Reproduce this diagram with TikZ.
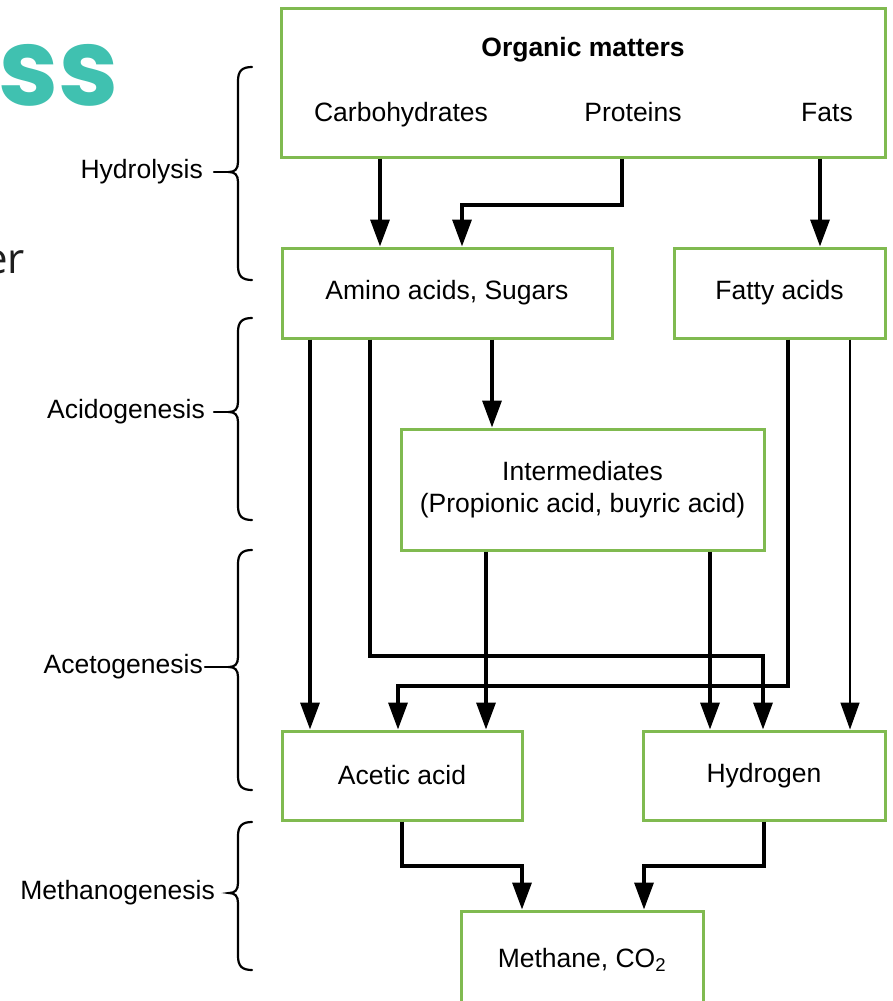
\documentclass[tikz,border=0pt]{standalone}
\usepackage{fontspec}
\setmainfont{Liberation Sans}
\newfontfamily\titlefont{Poppins}
\newfontfamily\slidefont{Open Sans}
\usetikzlibrary{arrows.meta}
\definecolor{boxgreen}{RGB}{128,186,80}
\definecolor{tealtitle}{RGB}{64,193,176}
\definecolor{slidetext}{RGB}{30,30,30}
\begin{document}
\begin{tikzpicture}[x=1pt,y=-1pt,
  box/.style={draw=boxgreen, line width=3pt, fill=white, rectangle, inner sep=0pt, align=center, font=\fontsize{26.5}{32}\selectfont},
  lbl/.style={font=\fontsize{26.5}{32}\selectfont, inner sep=0pt},
  arr/.style={line width=3.4pt, -{Triangle[length=27pt,width=19pt]}},
  brc/.style={line width=2.2pt, line cap=round}]
\clip (0,0) rectangle (892,1001);
\fill[white] (0,0) rectangle (892,1001);

% slide remnants
\node[anchor=base west, inner sep=0pt, text=tealtitle, font=\titlefont\bfseries\fontsize{108}{112}\selectfont] (ss) at (-2,105) {ss};
\node[anchor=base east, inner sep=0pt, text=slidetext, font=\slidefont\fontsize{42}{50}\selectfont] (er) at (25,273) {er};

% boxes
\node[box, minimum width=604pt, minimum height=149pt] (om) at (583,82.5) {};
\node[lbl, anchor=base, font=\fontsize{26.5}{32}\selectfont\bfseries] (omt) at (583,56) {Organic matters};
\node[lbl, anchor=base] (carb) at (401,121) {Carbohydrates};
\node[lbl, anchor=base] (prot) at (633,121) {Proteins};
\node[lbl, anchor=base] (fats) at (827,121) {Fats};

\node[box, minimum width=330pt, minimum height=90pt] (am) at (447,293) {Amino acids, Sugars};
\node[box, minimum width=211pt, minimum height=90pt] (fa) at (779.5,293) {Fatty acids};
\node[box, minimum width=363pt, minimum height=121pt] (im) at (582.5,489.5) {Intermediates\\(Propionic acid, buyric acid)};
\node[box, minimum width=240pt, minimum height=89pt] (ac) at (402,775.5) {Acetic acid};
\node[box, minimum width=242pt, minimum height=89pt] (hy) at (764,775.5) {Hydrogen};
\node[box, minimum width=242pt, minimum height=98pt] (me) at (582,960) {Methane, CO\textsubscript{2}};

% connectors
\draw[arr] (380,0 |- om.south) -- (380,0 |- am.north);
\draw[arr] (622,0 |- om.south) |- (462,205) -- (462,0 |- am.north);
\draw[arr] (820,0 |- om.south) -- (820,0 |- fa.north);
\draw[arr] (310,0 |- am.south) -- (310,0 |- ac.north);
\draw[arr] (370,0 |- am.south) |- (763,656) -- (763,0 |- hy.north);
\draw[arr] (492,0 |- am.south) -- (492,0 |- im.north);
\draw[arr] (486,0 |- im.south) -- (486,0 |- ac.north);
\draw[arr] (710,0 |- im.south) -- (710,0 |- hy.north);
\draw[arr] (788,0 |- fa.south) |- (398,686) -- (398,0 |- ac.north);
\draw[arr, line width=1.5pt] (850,0 |- fa.south) -- (850,0 |- hy.north);
\draw[arr] (ac.south) |- (522,866) -- (522,0 |- me.north);
\draw[arr] (hy.south) |- (644,866) -- (644,0 |- me.north);

% stage labels
\node[lbl, anchor=east] (l1) at (203,172) {Hydrolysis};
\node[lbl, anchor=east] (l2) at (205,412) {Acidogenesis};
\node[lbl, anchor=east] (l3) at (203,667) {Acetogenesis};
\node[lbl, anchor=east] (l4) at (215,893) {Methanogenesis};

% braces
\foreach \t/\m/\b/\s in {67/172/280/214, 318/412/520/214, 550/667/790/205, 822/893/970/228}{
  \draw[brc] (252,\t) .. controls (242,\t) and (238,\t+4) .. (238,\t+14)
    -- (238,\m-10) .. controls (238,\m-3) and (235,\m) .. (229,\m)
    .. controls (235,\m) and (238,\m+3) .. (238,\m+10)
    -- (238,\b-14) .. controls (238,\b-4) and (242,\b) .. (252,\b);
  \draw[brc] (\s,\m) -- (230,\m);
}
\end{tikzpicture}
\end{document}
